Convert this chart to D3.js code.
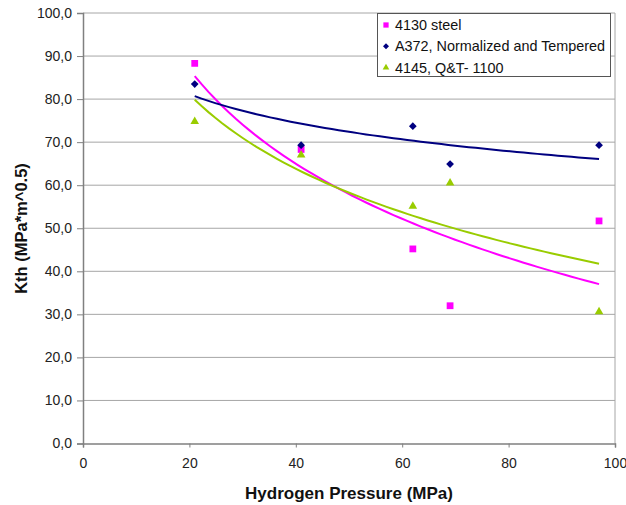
<!DOCTYPE html>
<html>
<head>
<meta charset="utf-8">
<script src="https://cdn.jsdelivr.net/npm/d3@7"></script>
<style>
body { margin: 0; background: #fff; }
svg { font-family: "Liberation Sans", Arial, sans-serif; }
</style>
</head>
<body>
<script>
// hydrogen pressure (MPa) for every test
var pressure = [21, 41, 62, 69, 97];
// Kth values per steel
var steel4130 = [88.3, 68.3, 45.2, 32.0, 51.7];
var a372 = [83.5, 69.3, 73.7, 64.9, 69.3];
var steel4145 = [74.8, 67.0, 55.1, 60.5, 30.6];
var seriesNames = ["4130 steel", "A372, Normalized and Tempered", "4145, Q&T- 1100"];
var xTicks = [0, 20, 40, 60, 80, 100];
var yTicks = [0, 10, 20, 30, 40, 50, 60, 70, 80, 90, 100];

var w = 626, h = 505;
var svg = d3.select("body").append("svg")
	.attr("width", w)
	.attr("height", h);

var x = d3.scaleLinear().domain([0, 100]).range([83, 615]);
var y = d3.scaleLinear().domain([0, 100]).range([443.5, 13]);

// square diamond (d3's one is too tall)
var flatDiamond = {
	draw: function(ctx, size){
		var r = Math.sqrt(size / 2);
		ctx.moveTo(0, -r); ctx.lineTo(r, 0); ctx.lineTo(0, r); ctx.lineTo(-r, 0); ctx.closePath();
	}
};

var series = [
	{name: seriesNames[0], vals: steel4130, color: "#ff00ff", shape: d3.symbolSquare, size: 46},
	{name: seriesNames[1], vals: a372, color: "#000080", shape: flatDiamond, size: 30},
	{name: seriesNames[2], vals: steel4145, color: "#99cc00", shape: d3.symbolTriangle, size: 32}
];

// horizontal grid lines
svg.append("g").selectAll("line")
	.data(yTicks.slice(1))
	.enter().append("line")
	.attr("x1", x(0)).attr("x2", x(100))
	.attr("y1", function(d){ return y(d); })
	.attr("y2", function(d){ return y(d); })
	.style("stroke", "#a6a6a6")
	.style("stroke-width", 1);

// right border of plot area
svg.append("line")
	.attr("x1", x(100)).attr("x2", x(100))
	.attr("y1", y(100)).attr("y2", y(0))
	.style("stroke", "#a6a6a6");

var yAxis = svg.append("g")
	.attr("transform", "translate(" + x(0) + ",0)")
	.call(d3.axisLeft(y).tickValues(yTicks).tickSize(6).tickPadding(5)
		.tickFormat(function(d){ return d.toFixed(1).replace(".", ","); }));

var xAxis = svg.append("g")
	.attr("transform", "translate(0," + y(0) + ")")
	.call(d3.axisBottom(x).tickValues(xTicks).tickSize(4).tickPadding(11));

[xAxis, yAxis].forEach(function(a){
	a.select(".domain").style("stroke", "#808080").style("stroke-width", 1.5);
	a.selectAll(".tick line").style("stroke", "#808080");
	a.selectAll(".tick text").style("font-size", "14px").style("fill", "#222")
		.style("font-family", "Liberation Sans, Arial, sans-serif");
});

// logarithmic trend lines (least squares on y = a + b ln x), like a spreadsheet trendline
function logFit(xs, ys){
	var lx = xs.map(Math.log);
	var mx = d3.mean(lx), my = d3.mean(ys);
	var sxy = d3.sum(lx, function(v, i){ return (v - mx) * (ys[i] - my); });
	var sxx = d3.sum(lx, function(v){ return (v - mx) * (v - mx); });
	var b = sxy / sxx, a = my - b * mx;
	return function(v){ return a + b * Math.log(v); };
}

var line = d3.line()
	.x(function(d){ return x(d[0]); })
	.y(function(d){ return y(d[1]); });

series.forEach(function(s){
	var f = logFit(pressure, s.vals);
	var pts = d3.range(60).map(function(i){
		var px = d3.min(pressure) + (d3.max(pressure) - d3.min(pressure)) * i / 59;
		return [px, f(px)];
	});
	svg.append("path")
		.datum(pts)
		.attr("d", line)
		.style("fill", "none")
		.style("stroke", s.color)
		.style("stroke-width", 2);
});

series.forEach(function(s){
	svg.append("g").selectAll("path")
		.data(s.vals)
		.enter().append("path")
		.attr("d", d3.symbol().type(s.shape).size(s.size))
		.attr("transform", function(d, i){
			return "translate(" + x(pressure[i]) + "," + y(d) + ")";
		})
		.style("fill", s.color);
});

// legend
var legend = svg.append("g");
legend.append("rect")
	.attr("x", 377.5).attr("y", 13.5)
	.attr("width", 233).attr("height", 63)
	.style("fill", "#fff")
	.style("stroke", "#555");
series.forEach(function(s, i){
	var ly = 25 + i * 21.3;
	legend.append("path")
		.attr("d", d3.symbol().type(s.shape).size(s.size * 0.6))
		.attr("transform", "translate(386," + ly + ")")
		.style("fill", s.color);
	legend.append("text")
		.attr("x", 395).attr("y", ly + 5)
		.style("font-size", "14.4px")
		.style("fill", "#111")
		.text(s.name);
});

// axis titles
svg.append("text")
	.attr("x", 349).attr("y", 499)
	.attr("text-anchor", "middle")
	.style("font-weight", "bold")
	.style("font-size", "17px")
	.style("fill", "#111")
	.text("Hydrogen Pressure (MPa)");

svg.append("text")
	.attr("transform", "translate(26.5,228.5) rotate(-90)")
	.attr("text-anchor", "middle")
	.style("font-weight", "bold")
	.style("font-size", "16.5px")
	.style("fill", "#111")
	.text("Kth (MPa*m^0.5)");
</script>
</body>
</html>
